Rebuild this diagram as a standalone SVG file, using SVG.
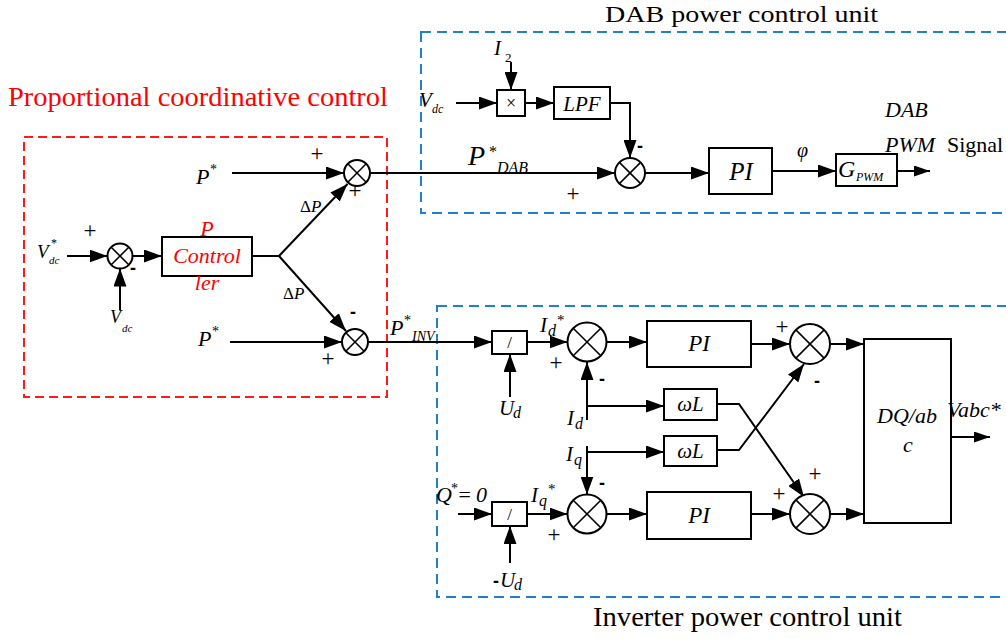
<svg xmlns="http://www.w3.org/2000/svg" width="1006" height="639" viewBox="0 0 1006 639">
  <style>
    .ln { fill: none; stroke: #000; stroke-width: 2; }
    .arw { fill: none; stroke: #000; stroke-width: 2; marker-end: url(#ah); }
    .arws { fill: none; stroke: #000; stroke-width: 2; marker-end: url(#ahs); }
    .box { fill: #fff; stroke: #000; stroke-width: 2; }
    .sum { fill: #fff; stroke: #000; stroke-width: 2; }
    .x { stroke: #000; stroke-width: 1.6; }
    .t { font-family: "Liberation Serif", "Times New Roman", serif; fill: #000; }
    .i { font-style: italic; }
    .sg { font-family: "Liberation Serif", "Times New Roman", serif; font-size: 23px; fill: #000; text-anchor: middle; dominant-baseline: central; }
    .mn { font-family: "Liberation Sans", Arial, sans-serif; font-weight: bold; font-size: 18px; fill: #000; text-anchor: middle; dominant-baseline: central; }
    .red { fill: #ff0000; }
    .zone-red { fill: none; stroke: #ff1a1a; stroke-width: 2; stroke-dasharray: 9 5; }
    .zone-blue { fill: none; stroke: #1f7fc8; stroke-width: 2; stroke-dasharray: 10 6; }
  </style>
  <defs>
    <marker id="ah" markerUnits="userSpaceOnUse" markerWidth="18" markerHeight="13" refX="18" refY="6.5" orient="auto">
      <path d="M0,0 L18,6.5 L0,13 z" fill="#000"/>
    </marker>
    <marker id="ahs" markerUnits="userSpaceOnUse" markerWidth="16" markerHeight="11" refX="16" refY="5.5" orient="auto">
      <path d="M0,0 L16,5.5 L0,11 z" fill="#000"/>
    </marker>
  </defs>

  <rect width="1006" height="639" fill="#fff"/>

  <!-- zone frames -->
  <rect class="zone-red" x="24" y="137" width="363" height="260"/>
  <rect class="zone-blue" x="421" y="32" width="600" height="181"/>
  <rect class="zone-blue" x="437" y="306" width="584" height="291"/>

  <!-- zone titles -->
  <text class="t red" x="8" y="106" font-size="27" textLength="380" lengthAdjust="spacingAndGlyphs">Proportional coordinative control</text>
  <text class="t" x="605" y="22" font-size="24" textLength="273" lengthAdjust="spacingAndGlyphs">DAB power control unit</text>
  <text class="t" x="593" y="626" font-size="27" textLength="309" lengthAdjust="spacingAndGlyphs">Inverter power control unit</text>

  <!-- connectors -->
  <g id="connectors">
    <!-- proportional coordinative control -->
    <line class="arw" x1="67" y1="256" x2="107.5" y2="256"/>
    <line class="arw" x1="120" y1="310" x2="120" y2="268.5"/>
    <line class="arw" x1="132.5" y1="256" x2="162" y2="256"/>
    <polyline class="ln" points="252,256 279,256"/>
    <line class="arw" x1="279" y1="256" x2="347.5" y2="184"/>
    <line class="arw" x1="279" y1="256" x2="346" y2="331"/>
    <line class="arw" x1="232" y1="173" x2="344" y2="173"/>
    <line class="arw" x1="230" y1="342" x2="342" y2="342"/>

    <!-- DAB loop -->
    <line class="arw" x1="370" y1="173" x2="615" y2="173"/>
    <line class="arw" x1="456" y1="103" x2="497" y2="103"/>
    <line class="arw" x1="511" y1="62" x2="511" y2="90"/>
    <line class="arw" x1="525" y1="103" x2="554" y2="103"/>
    <polyline class="arw" points="610,103 630,103 630,158"/>
    <line class="arw" x1="645" y1="173" x2="709" y2="173"/>
    <line class="arw" x1="772" y1="171" x2="836" y2="171"/>
    <line class="arws" x1="897" y1="171" x2="930" y2="171"/>

    <!-- inverter d axis -->
    <line class="arw" x1="368" y1="342" x2="492" y2="342"/>
    <line class="arw" x1="510" y1="397" x2="510" y2="354"/>
    <line class="arw" x1="527" y1="342" x2="567.5" y2="342"/>
    <line class="arw" x1="587" y1="420" x2="587" y2="362"/>
    <line class="arw" x1="587" y1="406" x2="664" y2="406"/>
    <line class="arw" x1="606.5" y1="342" x2="647" y2="342"/>
    <line class="arw" x1="751" y1="344" x2="790" y2="344"/>
    <line class="arw" x1="830" y1="344" x2="864" y2="344"/>

    <!-- inverter q axis -->
    <line class="arw" x1="458" y1="514" x2="492" y2="514"/>
    <line class="arw" x1="510" y1="563" x2="510" y2="526"/>
    <line class="arw" x1="527" y1="514" x2="567.5" y2="514"/>
    <line class="arw" x1="587" y1="446" x2="587" y2="494.5"/>
    <line class="arw" x1="587" y1="452" x2="664" y2="452"/>
    <line class="arw" x1="606.5" y1="514" x2="647" y2="514"/>
    <line class="arw" x1="751" y1="514" x2="790" y2="514"/>
    <line class="arw" x1="830" y1="514" x2="864" y2="514"/>

    <!-- cross coupling -->
    <polyline class="arw" points="717,404 739,404 804,497"/>
    <polyline class="arw" points="717,450 739,450 804,364"/>

    <!-- output -->
    <line class="arws" x1="951" y1="437" x2="990" y2="437"/>
  </g>

  <!-- proportional coordinative control nodes -->
  <g id="sum-vdc">
    <circle class="sum" cx="120" cy="256" r="12.5"/>
    <line class="x" x1="111.2" y1="247.2" x2="128.8" y2="264.8"/>
    <line class="x" x1="128.8" y1="247.2" x2="111.2" y2="264.8"/>
  </g>
  <g id="p-controller">
    <rect class="box" x="162" y="237" width="90" height="39"/>
    <text class="t i red" x="207" y="236" font-size="22" text-anchor="middle">P</text>
    <text class="t i red" x="207" y="263" font-size="22" text-anchor="middle">Control</text>
    <text class="t i red" x="207" y="290" font-size="22" text-anchor="middle">ler</text>
  </g>
  <g id="sum-dab-ref">
    <circle class="sum" cx="357" cy="173" r="13"/>
    <line class="x" x1="347.8" y1="163.8" x2="366.2" y2="182.2"/>
    <line class="x" x1="366.2" y1="163.8" x2="347.8" y2="182.2"/>
  </g>
  <g id="sum-inv-ref">
    <circle class="sum" cx="355" cy="342" r="13"/>
    <line class="x" x1="345.8" y1="332.8" x2="364.2" y2="351.2"/>
    <line class="x" x1="364.2" y1="332.8" x2="345.8" y2="351.2"/>
  </g>

  <!-- DAB nodes -->
  <g id="mult">
    <rect class="box" x="497" y="90" width="28" height="26"/>
    <text class="t" x="511" y="109" font-size="18" text-anchor="middle">×</text>
  </g>
  <g id="lpf">
    <rect class="box" x="554" y="87" width="56" height="32"/>
    <text class="t i" x="582" y="111" font-size="21" text-anchor="middle">LPF</text>
  </g>
  <g id="sum-dab">
    <circle class="sum" cx="630" cy="173" r="15"/>
    <line class="x" x1="619.4" y1="162.4" x2="640.6" y2="183.6"/>
    <line class="x" x1="640.6" y1="162.4" x2="619.4" y2="183.6"/>
  </g>
  <g id="pi-dab">
    <rect class="box" x="709" y="148" width="63" height="46"/>
    <text class="t i" x="741" y="180" font-size="25" text-anchor="middle">PI</text>
  </g>
  <g id="gpwm">
    <rect class="box" x="836" y="154" width="61" height="32"/>
    <text class="t i" x="838" y="177" font-size="24">G</text>
    <text class="t i" x="856" y="181" font-size="12">PWM</text>
  </g>

  <!-- inverter nodes -->
  <g id="div-d">
    <rect class="box" x="492" y="331" width="35" height="23"/>
    <text class="t" x="509.5" y="348" font-size="17" text-anchor="middle">/</text>
  </g>
  <g id="div-q">
    <rect class="box" x="492" y="502" width="35" height="24"/>
    <text class="t" x="509.5" y="520" font-size="17" text-anchor="middle">/</text>
  </g>
  <g id="sum-id">
    <circle class="sum" cx="587" cy="342" r="19.5"/>
    <line class="x" x1="573.2" y1="328.2" x2="600.8" y2="355.8"/>
    <line class="x" x1="600.8" y1="328.2" x2="573.2" y2="355.8"/>
  </g>
  <g id="sum-iq">
    <circle class="sum" cx="587" cy="514" r="19.5"/>
    <line class="x" x1="573.2" y1="500.2" x2="600.8" y2="527.8"/>
    <line class="x" x1="600.8" y1="500.2" x2="573.2" y2="527.8"/>
  </g>
  <g id="pi-d">
    <rect class="box" x="647" y="321" width="104" height="46"/>
    <text class="t i" x="699" y="351" font-size="23" text-anchor="middle">PI</text>
  </g>
  <g id="pi-q">
    <rect class="box" x="647" y="492" width="104" height="47"/>
    <text class="t i" x="699" y="523" font-size="23" text-anchor="middle">PI</text>
  </g>
  <g id="wl-d">
    <rect class="box" x="664" y="389" width="53" height="31"/>
    <text class="t i" x="690.5" y="411" font-size="21" text-anchor="middle">ωL</text>
  </g>
  <g id="wl-q">
    <rect class="box" x="664" y="436" width="53" height="30"/>
    <text class="t i" x="690.5" y="458" font-size="21" text-anchor="middle">ωL</text>
  </g>
  <g id="sum-vd">
    <circle class="sum" cx="810" cy="344" r="20"/>
    <line class="x" x1="795.9" y1="329.9" x2="824.1" y2="358.1"/>
    <line class="x" x1="824.1" y1="329.9" x2="795.9" y2="358.1"/>
  </g>
  <g id="sum-vq">
    <circle class="sum" cx="810" cy="514" r="20"/>
    <line class="x" x1="795.9" y1="499.9" x2="824.1" y2="528.1"/>
    <line class="x" x1="824.1" y1="499.9" x2="795.9" y2="528.1"/>
  </g>
  <g id="dq-abc">
    <rect class="box" x="864" y="339" width="87" height="184"/>
    <text class="t i" x="877" y="423" font-size="22">DQ/ab</text>
    <text class="t i" x="903" y="452" font-size="22">c</text>
  </g>

  <!-- labels: proportional coordinative control -->
  <g id="labels-pcc">
    <text class="t i" x="37" y="258" font-size="19">V</text>
    <text class="t" x="51" y="247" font-size="12">*</text>
    <text class="t i" x="49" y="264" font-size="11">dc</text>
    <text class="sg" x="90" y="230">+</text>
    <text class="mn" x="133" y="268">-</text>
    <text class="t i" x="110" y="323" font-size="18">V</text>
    <text class="t i" x="122" y="332" font-size="11">dc</text>
    <text class="t i" x="196" y="184" font-size="22">P</text>
    <text class="t" x="210" y="174" font-size="14">*</text>
    <text class="t i" x="198" y="346" font-size="22">P</text>
    <text class="t" x="212" y="336" font-size="14">*</text>
    <text class="t" x="300" y="212" font-size="17">Δ<tspan font-style="italic">P</tspan></text>
    <text class="t" x="283" y="299" font-size="17">Δ<tspan font-style="italic">P</tspan></text>
    <text class="sg" x="317" y="153">+</text>
    <text class="sg" x="355" y="190">+</text>
    <text class="mn" x="353" y="312">-</text>
    <text class="sg" x="328" y="358">+</text>
  </g>

  <!-- labels: DAB loop -->
  <g id="labels-dab">
    <text class="t i" x="494" y="55" font-size="21">I</text>
    <text class="t" x="505" y="62" font-size="13">2</text>
    <text class="t i" x="419" y="107" font-size="21">V</text>
    <text class="t i" x="432" y="113" font-size="12">dc</text>
    <text class="mn" x="640" y="146">-</text>
    <text class="t i" x="468" y="165" font-size="28">P</text>
    <text class="t" x="489" y="157" font-size="16">*</text>
    <text class="t i" x="497" y="173" font-size="16">DAB</text>
    <text class="sg" x="573" y="193">+</text>
    <text class="t i" x="797" y="157" font-size="20">φ</text>
    <text class="t i" x="885" y="117" font-size="22">DAB</text>
    <text class="t i" x="885" y="152" font-size="22">PWM</text>
    <text class="t" x="947" y="152" font-size="22">Signal</text>
  </g>

  <!-- labels: inverter loop -->
  <g id="labels-inv">
    <text class="t i" x="390" y="335" font-size="22">P</text>
    <text class="t" x="404" y="325" font-size="14">*</text>
    <text class="t i" x="412" y="341" font-size="14">INV</text>
    <text class="t i" x="540" y="332" font-size="21">I</text>
    <text class="t i" x="548" y="336" font-size="16">d</text>
    <text class="t" x="557" y="325" font-size="15">*</text>
    <text class="sg" x="556" y="362">+</text>
    <text class="mn" x="602" y="379">-</text>
    <text class="t i" x="499" y="415" font-size="21">U</text>
    <text class="t i" x="513" y="418" font-size="16">d</text>
    <text class="t i" x="567" y="425" font-size="21">I</text>
    <text class="t i" x="575" y="429" font-size="16">d</text>
    <text class="t i" x="566" y="461" font-size="21">I</text>
    <text class="t i" x="574" y="465" font-size="16">q</text>
    <text class="mn" x="602" y="483">-</text>
    <text class="t i" x="436" y="502" font-size="22">Q</text>
    <text class="t" x="451" y="493" font-size="14">*</text>
    <text class="t i" x="457" y="502" font-size="22" textLength="30" lengthAdjust="spacing">=0</text>
    <text class="t i" x="531" y="502" font-size="21">I</text>
    <text class="t i" x="539" y="506" font-size="16">q</text>
    <text class="t" x="548" y="494" font-size="15">*</text>
    <text class="sg" x="554" y="534">+</text>
    <text class="mn" x="496" y="581">-</text>
    <text class="t i" x="500" y="587" font-size="21">U</text>
    <text class="t i" x="514" y="590" font-size="16">d</text>
    <text class="sg" x="782" y="326">+</text>
    <text class="mn" x="817" y="381">-</text>
    <text class="sg" x="815" y="473">+</text>
    <text class="sg" x="779" y="493">+</text>
    <text class="t i" x="947" y="417" font-size="22">Vabc*</text>
  </g>
</svg>
